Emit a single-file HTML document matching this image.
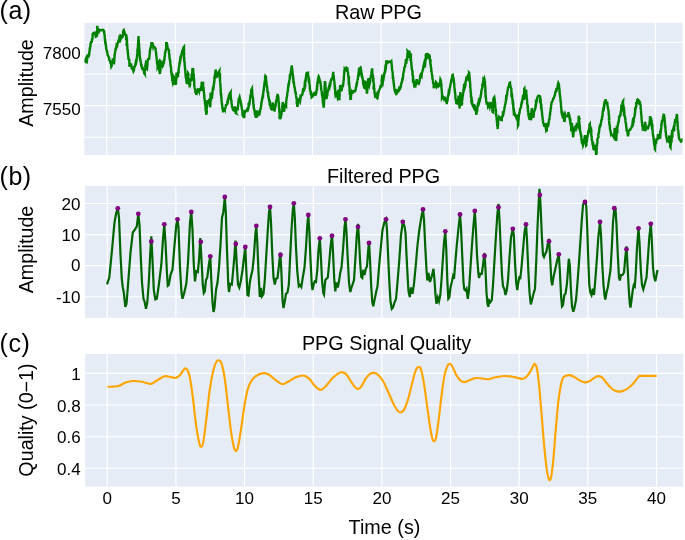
<!DOCTYPE html>
<html><head><meta charset="utf-8">
<style>
html,body{margin:0;padding:0;background:#fff;}
body{width:685px;height:540px;overflow:hidden;font-family:"Liberation Sans",sans-serif;}
svg{display:block;will-change:transform;transform:translateZ(0)}
text{font-family:"Liberation Sans",sans-serif;fill:#000;}
</style></head><body>
<svg width="685" height="540" viewBox="0 0 685 540">
<rect width="685" height="540" fill="#fff"/>
<defs><clipPath id="ca"><rect x="84.4" y="22.8" width="598.2" height="132.2"/></clipPath><clipPath id="cb"><rect x="85" y="185.9" width="598.3" height="131.9"/></clipPath></defs>
<!-- panel a -->
<rect x="84.4" y="22.8" width="598.2" height="132.2" fill="#e5ecf6"/>
<g stroke="#fff" stroke-width="1.15" fill="none">
<path d="M84.4 42.4H682.6M84.4 74H682.6M84.4 105.6H682.6M84.4 137.2H682.6"/>
<path stroke-width="1.15" d="M106.7 22.8V155M175.3 22.8V155M243.9 22.8V155M312.5 22.8V155M381.1 22.8V155M449.7 22.8V155M518.3 22.8V155M586.9 22.8V155M655.5 22.8V155"/>
</g>
<!-- panel b -->
<rect x="85" y="185.9" width="598.3" height="131.9" fill="#e5ecf6"/>
<g stroke="#fff" stroke-width="1.15" fill="none">
<path d="M85 203.5H683.3M85 234.6H683.3M85 265.6H683.3M85 296.7H683.3"/>
<path stroke-width="1.15" d="M107.2 185.9V317.8M175.9 185.9V317.8M244.5 185.9V317.8M313.2 185.9V317.8M381.9 185.9V317.8M450.5 185.9V317.8M519.2 185.9V317.8M587.8 185.9V317.8M656.5 185.9V317.8"/>
</g>
<!-- panel c -->
<rect x="85.2" y="354" width="598.1" height="132.7" fill="#e5ecf6"/>
<g stroke="#fff" stroke-width="1.1" fill="none">
<path d="M85.2 373.4H683.3M85.2 405H683.3M85.2 436.7H683.3M85.2 468.3H683.3"/>
<path stroke-width="1.2" d="M107.2 354V486.7M175.9 354V486.7M244.5 354V486.7M313.2 354V486.7M381.9 354V486.7M450.5 354V486.7M519.2 354V486.7M587.8 354V486.7M656.5 354V486.7"/>
</g>
<path clip-path="url(#ca)" d="M84.7 61.2L85.3 59.8L85.8 58.8L85.9 59.7L86.3 60.9L86.5 62.5L86.7 63.3L86.8 62.5L87.0 59.6L87.2 60.4L87.1 57.4L87.4 57.0L87.6 56.9L87.7 55.7L88.7 56.3L88.9 55.7L89.2 53.8L89.3 53.8L89.3 51.8L89.5 51.0L89.7 50.8L89.7 48.8L89.9 48.0L90.1 48.0L90.4 46.0L90.6 43.3L90.6 44.5L91.0 42.1L91.9 41.6L92.0 39.8L92.0 39.3L92.4 38.9L92.6 37.9L92.6 36.2L92.8 33.7L92.9 33.5L94.1 32.6L94.6 32.6L95.3 34.4L95.8 36.7L96.7 36.2L96.9 35.7L96.7 34.9L97.0 31.2L96.9 31.6L97.1 31.9L97.1 30.1L97.3 29.3L97.3 28.3L97.1 27.2L97.3 26.0L97.5 27.6L97.5 26.3L97.5 29.9L97.9 30.2L97.9 31.2L98.7 32.0L99.4 29.6L100.6 30.2L101.8 30.3L102.8 29.8L104.0 30.9L104.1 31.8L104.4 33.7L104.3 33.7L104.6 35.1L104.7 36.2L104.8 38.5L104.9 39.5L105.2 38.8L105.3 41.5L105.4 41.9L105.6 42.8L105.6 43.7L105.8 45.0L105.9 45.8L106.2 47.3L106.1 48.1L106.2 48.8L106.6 49.9L106.8 50.6L107.0 52.3L107.1 50.8L107.5 54.3L107.7 55.3L108.2 55.8L108.6 57.1L109.1 57.7L109.1 59.5L109.5 60.3L110.4 61.4L110.3 62.6L110.9 63.4L111.0 64.0L111.3 66.5L111.7 65.8L111.8 62.4L112.1 62.6L112.6 62.1L112.8 58.2L113.0 59.0L113.0 61.1L113.5 61.8L113.5 62.6L113.6 64.1L113.7 63.0L114.0 63.1L114.3 60.6L114.2 58.8L114.3 58.6L114.4 58.0L114.6 56.9L114.5 54.3L114.7 55.0L115.0 53.1L115.2 51.0L115.4 51.7L115.4 49.2L115.6 48.6L116.1 48.6L116.4 46.3L116.6 46.3L116.7 45.0L117.2 45.5L117.5 43.3L117.8 42.8L118.0 42.7L118.4 40.7L119.0 40.7L119.3 38.5L119.6 39.1L119.8 41.1L120.0 42.6L119.9 40.9L120.1 39.6L120.4 39.5L120.5 37.2L120.6 37.3L120.7 35.7L121.4 36.2L121.8 37.6L122.8 36.4L123.1 34.2L123.1 32.0L123.5 30.8L123.5 30.2L123.7 30.0L124.0 31.1L124.6 32.4L124.7 33.3L125.4 34.7L125.9 35.1L126.1 35.1L126.1 38.1L126.6 37.7L126.7 39.5L126.9 40.5L126.8 41.8L127.0 41.5L127.1 44.8L127.3 45.0L127.2 45.7L127.4 47.4L127.3 49.0L127.6 50.1L127.9 49.4L127.7 51.9L128.0 53.1L128.0 54.7L128.3 56.2L128.3 57.2L128.4 58.9L128.4 58.9L129.2 59.5L129.4 61.8L129.4 61.8L129.4 64.8L129.9 64.5L129.9 64.4L129.9 66.7L130.3 65.2L130.5 65.2L131.0 63.5L131.2 65.0L131.3 65.9L131.5 66.2L131.7 68.5L132.6 68.9L133.0 69.1L133.5 71.3L133.9 70.5L134.2 66.2L134.6 67.7L134.8 66.3L135.3 65.0L135.8 62.2L136.1 62.7L136.5 60.8L136.4 61.8L136.7 58.4L136.9 57.8L136.9 56.4L137.2 57.5L137.1 53.7L137.5 55.1L137.5 53.0L137.5 52.2L137.4 50.6L137.7 48.6L137.7 48.6L137.9 46.9L138.0 46.2L138.0 45.0L138.1 43.9L138.1 42.6L138.2 41.0L138.3 40.3L138.3 39.3L138.3 38.1L138.6 37.5L138.5 36.1L138.6 36.9L138.5 37.4L138.6 39.4L138.7 41.0L138.7 39.3L138.9 43.9L139.0 43.4L139.1 44.2L139.1 46.4L139.3 48.4L139.3 48.3L139.4 50.9L139.3 51.5L139.6 51.6L139.6 52.8L139.7 55.0L139.8 56.0L140.0 58.6L140.0 57.4L140.1 59.5L140.4 59.6L140.5 61.9L140.7 61.2L140.9 63.3L141.2 65.2L141.5 65.2L141.7 66.7L141.9 67.2L142.2 68.3L142.7 68.0L143.3 69.6L143.5 69.5L143.8 70.2L144.2 73.6L144.4 74.2L144.4 73.0L144.8 73.7L144.7 72.0L144.8 69.9L145.2 69.7L145.2 66.4L145.2 67.5L145.5 65.5L145.6 64.1L145.9 62.8L146.1 63.2L146.2 62.2L146.5 64.5L146.4 63.2L146.5 64.6L146.7 66.5L146.7 68.2L147.0 68.6L147.1 67.8L147.2 66.5L147.4 65.1L147.4 65.0L147.5 63.1L147.6 60.3L147.6 61.5L147.9 60.6L148.0 59.1L149.2 58.8L149.3 57.5L149.4 57.1L149.5 54.8L149.7 54.4L149.8 53.4L149.8 51.6L150.0 50.8L150.2 49.1L150.4 48.8L150.6 47.9L151.0 46.5L151.1 45.5L151.3 44.8L151.4 43.1L152.4 43.1L152.9 44.4L153.3 47.0L153.6 46.2L154.5 47.4L155.1 47.7L155.4 48.6L155.6 49.0L155.7 50.9L156.1 52.6L156.1 53.4L156.3 55.1L156.3 55.9L156.6 57.3L156.6 58.8L157.0 60.7L156.9 60.4L157.0 61.4L157.1 63.7L157.3 64.2L157.6 64.1L157.6 66.8L157.9 66.2L158.0 67.8L158.1 69.3L158.1 68.8L158.3 68.8L158.4 66.5L158.4 64.8L158.8 65.3L158.7 61.8L159.0 61.4L159.0 63.9L159.1 64.0L159.1 65.1L159.1 66.3L159.4 67.4L159.4 69.0L159.5 68.9L159.8 70.4L159.7 72.6L159.7 72.7L159.9 74.0L160.0 72.8L160.1 72.5L160.0 72.7L160.5 69.9L160.2 67.2L160.4 67.8L160.4 67.0L160.5 65.8L160.6 64.6L161.1 62.1L161.8 63.0L161.9 63.2L162.2 65.7L162.5 66.4L162.9 65.7L163.2 64.4L163.6 61.7L164.0 61.9L164.1 60.3L164.2 60.3L164.6 59.2L164.5 57.2L164.8 56.5L164.9 55.8L164.9 53.9L165.0 53.5L165.4 51.0L165.3 52.2L165.6 51.1L165.9 49.8L166.1 48.1L166.3 47.1L166.2 45.7L166.2 43.9L166.6 44.2L166.6 43.1L166.7 42.2L166.7 42.2L167.0 44.2L167.0 43.9L167.3 46.1L167.4 45.8L167.6 47.5L167.7 49.0L168.7 49.6L169.0 50.4L168.9 52.9L169.0 53.5L169.3 53.8L169.3 55.2L169.4 55.5L169.4 57.1L169.6 57.9L169.7 59.3L169.9 59.5L170.1 61.2L170.3 61.9L170.3 63.3L170.4 65.1L170.7 65.8L170.9 67.1L171.0 68.2L171.1 68.9L171.2 72.1L171.4 72.4L171.6 72.5L171.8 74.4L171.6 74.4L172.1 77.1L172.1 77.9L172.3 81.2L172.5 80.4L172.8 81.6L172.7 81.5L172.9 82.8L173.0 83.3L173.4 82.3L173.4 80.4L173.5 78.9L173.8 77.7L173.9 77.2L174.4 78.3L174.8 79.5L175.0 80.7L175.2 82.0L175.6 81.5L175.5 83.9L175.9 84.9L175.8 83.8L176.0 83.7L176.1 82.0L176.0 80.0L176.2 79.8L176.3 77.6L176.4 76.8L176.4 75.3L176.5 72.6L176.6 73.5L176.9 75.6L177.4 75.4L177.6 76.5L178.0 76.1L178.1 74.4L178.2 72.7L178.3 72.1L178.7 72.1L178.6 69.4L178.8 69.0L179.0 66.9L179.1 67.3L179.1 66.2L179.3 65.3L179.5 63.0L179.8 62.2L179.9 61.5L180.1 60.0L180.3 60.5L180.7 58.2L180.7 57.0L181.0 56.2L181.1 56.4L181.7 53.4L182.0 53.3L182.1 51.2L182.5 50.4L182.9 50.3L183.5 47.5L184.0 46.9L184.0 48.3L183.9 50.0L184.0 50.0L183.9 51.8L184.1 53.0L184.2 55.1L184.0 54.5L184.0 55.7L184.0 59.0L184.2 58.4L184.3 58.4L184.1 60.6L184.5 61.9L184.6 61.2L184.6 64.0L184.8 65.3L184.8 65.8L184.9 66.7L184.9 67.9L185.2 69.1L185.1 70.7L185.2 70.4L185.4 72.6L185.5 73.9L185.7 74.5L185.6 75.3L185.8 77.5L185.9 77.7L186.1 78.5L186.4 80.7L186.7 80.3L186.8 82.7L187.1 83.9L187.2 82.3L187.5 82.1L187.5 79.7L187.8 78.3L187.8 77.5L187.9 76.2L187.7 77.5L188.1 74.1L188.1 73.3L188.5 73.9L188.2 75.6L188.3 77.4L188.6 78.8L188.9 79.0L188.9 80.0L188.9 80.0L189.3 83.4L189.5 82.9L189.7 85.2L189.8 85.4L190.0 84.6L190.1 84.4L190.2 80.7L190.5 82.1L190.4 79.8L190.6 79.6L190.7 78.4L191.0 80.2L191.6 80.1L191.7 78.4L191.6 77.1L191.9 77.4L192.0 74.9L192.0 75.0L192.2 72.9L192.3 72.0L192.3 70.6L192.7 70.9L192.8 68.9L193.0 67.9L193.0 68.6L193.2 69.4L193.2 70.6L193.3 72.8L193.5 73.9L193.8 74.8L193.8 75.6L193.8 76.0L193.7 77.8L194.0 78.3L194.1 79.5L194.2 81.6L194.2 82.8L194.2 82.9L194.3 83.9L194.2 85.1L194.4 86.0L194.5 87.2L194.7 88.4L195.1 89.3L195.0 88.3L195.3 90.0L195.4 93.3L195.9 91.6L196.3 94.9L196.7 93.3L197.1 90.4L197.3 91.2L197.6 90.1L198.0 89.7L198.4 88.2L198.4 88.7L199.0 90.1L199.3 91.3L199.8 89.3L200.3 89.0L200.9 89.8L201.2 90.9L201.1 88.4L201.6 88.8L201.6 87.7L201.6 85.2L201.7 85.3L201.8 81.8L202.1 82.8L202.5 85.0L203.1 84.3L203.1 85.8L203.3 87.8L203.6 86.9L203.6 88.4L203.6 90.0L203.7 91.4L203.7 90.7L204.0 93.0L204.1 93.8L204.3 95.6L204.3 96.8L204.2 97.2L204.6 98.7L204.7 100.5L204.9 101.0L204.9 102.2L205.1 103.9L205.3 104.5L205.3 104.8L205.4 105.7L205.6 107.8L205.7 110.0L206.0 110.0L206.1 111.3L206.0 110.6L206.3 113.1L206.2 113.8L206.4 114.7L206.4 113.2L206.4 114.0L206.8 111.6L206.7 111.5L206.7 108.9L206.8 109.8L206.8 108.4L206.9 106.7L207.0 105.3L207.0 105.3L207.3 103.1L207.4 101.6L207.8 101.7L207.7 100.2L208.0 101.0L208.6 102.0L209.0 100.4L209.5 99.0L209.5 100.4L209.7 101.6L209.8 102.8L210.0 103.2L209.8 104.5L210.0 106.1L210.2 107.2L210.3 106.0L210.3 104.2L210.4 105.4L210.4 102.9L210.4 101.9L210.5 101.5L210.5 97.8L210.7 98.0L210.6 97.1L210.6 98.4L210.6 94.5L210.6 92.4L210.8 93.4L210.9 93.9L211.3 94.3L211.4 96.0L211.7 97.9L212.0 97.8L212.0 96.4L212.3 94.6L212.3 94.5L212.5 92.6L212.6 91.1L212.7 89.5L212.9 88.3L213.4 88.6L213.7 85.3L213.8 85.4L214.1 82.5L214.2 83.8L214.2 81.0L214.3 81.3L214.5 80.0L214.4 77.6L214.7 77.4L214.7 76.1L214.9 75.8L215.0 74.3L215.3 72.7L215.3 72.6L215.6 70.5L215.6 69.5L215.8 71.2L215.9 71.5L216.0 71.9L215.9 74.0L216.1 75.5L216.2 77.1L216.4 77.0L216.9 76.5L217.3 75.6L217.8 74.0L218.2 73.3L218.5 72.3L219.3 71.1L219.2 72.0L219.5 73.2L219.4 75.2L219.6 76.7L219.7 78.6L219.8 78.3L220.0 77.9L220.0 80.2L220.2 82.5L220.0 81.8L220.2 82.9L220.4 83.9L220.4 86.0L220.5 87.1L220.7 88.2L220.6 90.0L220.7 90.0L220.8 92.7L220.8 93.5L221.0 93.4L221.1 93.6L221.3 96.5L221.2 98.4L221.4 97.0L221.5 99.5L221.5 100.6L221.8 102.3L221.8 103.2L222.1 104.2L221.9 104.6L222.3 106.5L222.4 107.4L222.6 109.4L222.8 109.8L223.1 111.3L223.4 111.2L223.9 110.4L224.0 107.6L224.6 109.0L224.9 109.6L225.0 108.4L225.5 107.8L225.7 106.7L225.9 105.1L227.1 104.5L227.4 102.2L227.4 102.0L227.7 100.7L228.0 101.0L228.1 98.9L228.6 98.8L228.7 96.3L229.2 95.4L229.6 94.0L229.8 93.3L230.4 92.7L230.6 92.4L230.5 93.8L230.7 95.2L230.9 98.1L231.0 98.7L231.1 98.9L231.2 100.0L231.5 100.8L231.5 102.2L231.5 103.1L231.9 105.3L232.1 107.4L232.1 106.6L232.8 108.7L232.9 109.7L233.9 110.6L234.3 110.4L234.6 107.5L234.8 106.9L234.9 106.5L235.1 107.7L235.2 110.5L235.5 109.4L235.7 112.5L235.7 113.0L236.1 113.2L236.0 113.0L236.2 110.5L236.5 110.0L236.6 108.2L237.1 108.1L237.5 110.3L237.6 109.7L237.8 109.4L237.9 106.5L237.9 107.2L238.2 104.9L238.3 104.5L238.4 101.9L238.6 100.0L239.1 100.3L239.2 98.2L239.3 98.0L239.6 97.1L240.1 99.3L240.4 100.1L240.7 102.1L241.0 103.1L241.2 103.6L241.3 105.8L241.7 106.8L241.7 107.7L241.9 109.1L242.2 109.7L242.3 110.0L242.4 111.8L242.5 114.8L242.9 115.9L243.0 115.9L243.6 115.8L244.0 118.1L244.1 116.6L244.3 117.6L244.4 114.1L244.6 113.7L244.9 112.4L244.9 111.0L246.2 110.5L246.7 110.9L247.4 109.1L247.9 109.7L248.6 107.1L248.6 105.5L248.8 105.7L249.4 104.7L249.4 101.9L249.6 101.7L249.7 101.8L249.9 99.9L250.0 99.5L250.2 98.0L250.3 97.0L250.3 95.9L250.7 94.7L250.9 95.3L251.2 91.4L251.2 90.4L251.7 89.4L251.9 89.0L251.9 89.9L252.2 90.2L252.1 92.4L252.2 91.5L252.4 96.5L252.6 95.5L252.7 96.9L252.7 97.6L253.1 98.2L253.1 99.6L253.1 99.9L253.3 102.8L253.3 103.4L253.5 105.2L253.7 105.2L253.7 106.1L253.7 107.8L254.1 108.9L254.1 109.1L254.5 110.6L254.7 111.7L254.7 112.1L255.0 114.5L255.4 115.6L255.6 115.8L255.9 117.8L256.0 117.3L256.0 116.7L256.0 113.8L256.2 114.5L256.3 111.6L256.4 111.1L256.6 110.3L256.7 111.0L257.0 111.9L257.1 113.5L257.3 115.3L257.5 115.7L257.9 115.1L258.5 115.0L259.0 112.7L259.6 113.3L259.9 112.0L260.1 110.9L260.1 109.0L260.5 110.2L260.7 108.3L261.0 107.1L261.2 104.9L261.4 104.4L261.2 103.8L261.7 101.5L261.8 101.4L262.0 100.0L262.1 98.7L262.3 98.0L262.5 98.0L262.7 96.0L263.0 96.1L263.1 94.4L263.3 92.6L263.5 90.8L263.7 90.2L263.9 90.7L263.8 87.9L264.1 87.2L264.2 85.2L264.5 83.2L264.9 84.0L264.7 83.0L265.0 81.7L265.1 80.9L265.1 79.3L265.4 79.8L265.4 78.9L265.6 76.3L265.9 76.7L265.9 77.4L266.2 80.7L266.2 80.2L266.2 81.5L266.5 82.2L266.5 84.9L266.6 85.1L267.1 86.5L267.0 88.9L267.2 87.7L267.4 90.7L267.6 93.1L267.7 92.0L268.0 92.1L268.2 93.9L268.1 94.5L268.4 97.1L268.8 97.4L268.8 99.1L269.2 100.7L269.6 99.6L269.6 102.3L269.7 103.9L270.0 103.7L270.1 106.2L270.3 105.6L270.7 107.3L271.1 108.8L271.9 109.5L272.2 109.0L272.1 108.1L272.2 105.5L272.5 104.8L272.8 104.3L272.6 103.5L272.9 102.6L273.0 104.2L273.0 104.0L273.4 104.9L273.3 106.3L273.6 108.2L274.1 109.5L274.5 110.5L274.6 110.5L274.8 109.1L275.2 107.8L275.4 106.4L275.6 105.2L275.9 104.9L275.9 102.9L276.1 101.0L276.4 100.3L276.6 100.0L276.9 98.8L277.0 96.5L277.3 95.9L277.7 94.2L277.8 93.9L277.7 96.0L278.1 96.1L278.3 97.3L278.4 98.5L278.5 98.8L278.4 99.8L278.7 102.1L278.7 102.6L279.0 103.4L278.9 106.5L278.9 107.3L279.0 105.7L279.1 107.7L279.3 109.7L279.3 113.3L279.5 111.8L279.7 112.8L279.6 115.4L279.8 115.1L279.7 116.3L280.0 116.6L280.3 116.2L280.4 119.4L280.4 118.4L280.7 116.9L280.9 115.0L281.2 115.4L281.4 114.5L281.5 113.4L281.7 111.9L281.9 110.9L282.0 109.6L282.0 108.4L282.3 109.3L282.5 106.7L282.2 106.4L282.6 104.7L282.7 104.6L282.7 102.0L282.7 102.0L283.0 104.3L283.0 104.3L283.2 106.0L283.3 107.7L283.4 108.2L283.9 110.7L284.1 110.7L284.3 110.6L284.4 109.2L284.5 106.9L284.5 107.4L284.9 107.1L285.0 105.9L284.9 103.5L285.1 104.3L285.4 105.1L285.6 107.0L285.6 106.5L286.1 106.8L286.1 103.7L286.2 103.0L286.2 101.3L286.4 100.2L286.5 99.5L286.6 98.5L286.8 97.2L286.9 96.7L287.2 95.4L287.2 94.5L287.4 92.8L287.6 91.7L287.7 92.2L288.0 89.2L288.0 88.9L288.2 87.0L288.3 87.2L288.6 85.3L288.6 84.9L289.0 83.4L289.0 82.1L289.3 81.1L289.4 80.3L289.6 79.2L289.8 76.4L290.1 76.7L290.3 75.0L290.5 74.0L290.6 74.8L290.8 72.3L291.1 70.3L291.2 71.0L291.4 67.9L291.6 68.8L291.5 67.4L291.9 65.4L291.8 67.9L292.3 68.8L292.3 69.7L292.2 69.9L292.4 71.3L292.6 72.5L292.6 73.7L292.8 75.0L293.1 75.9L293.0 77.4L293.1 78.0L293.3 80.4L293.5 80.1L293.6 81.0L293.9 82.2L294.0 82.7L294.1 84.9L294.3 86.0L294.5 87.2L294.8 87.8L294.8 88.0L295.2 91.3L295.3 91.8L295.6 93.2L295.7 92.3L296.1 95.8L296.0 95.4L296.4 97.8L296.5 98.6L296.8 99.6L296.9 98.4L296.7 102.3L296.8 103.4L297.2 104.8L297.2 106.8L297.5 106.0L297.5 106.9L297.6 105.3L297.6 104.8L297.9 104.1L298.1 102.7L298.2 101.2L298.2 100.2L298.5 100.3L299.3 98.9L299.7 99.9L300.1 101.0L300.3 99.8L300.5 97.2L300.7 97.5L301.0 96.1L301.2 96.1L301.7 95.0L302.2 94.8L302.5 94.2L302.5 93.4L302.9 91.2L302.9 89.8L303.1 89.4L304.1 90.1L304.4 88.7L304.5 87.7L304.7 87.7L304.6 86.4L304.8 83.6L305.2 84.1L305.2 82.3L305.2 81.8L305.5 79.9L305.7 80.0L305.7 79.4L306.0 78.1L306.1 76.3L306.2 75.0L306.5 73.2L307.1 72.5L307.1 71.8L307.6 74.2L308.0 73.8L308.0 75.4L308.3 76.6L308.4 75.6L308.6 78.4L308.6 80.3L308.8 80.5L308.9 80.9L308.9 83.3L309.3 82.4L309.4 83.7L309.6 84.5L309.8 86.8L309.8 88.5L310.1 89.8L310.3 90.6L310.4 91.9L310.7 92.3L310.8 94.1L311.2 94.8L311.3 94.6L311.6 97.3L312.6 96.4L313.1 95.8L313.6 94.2L314.2 92.9L314.5 92.8L315.0 94.6L315.4 94.7L315.7 93.3L316.1 93.5L316.3 92.4L316.4 91.9L316.7 89.7L316.9 88.3L317.1 86.1L317.2 86.3L317.4 83.6L317.5 84.5L317.6 82.3L317.7 83.4L317.9 80.2L318.0 79.3L318.2 78.9L318.3 77.2L318.4 77.9L318.7 76.4L318.9 76.7L319.3 79.1L319.6 79.4L319.8 81.4L320.4 81.6L320.5 84.0L320.7 83.1L320.8 86.1L320.8 85.0L321.1 88.0L321.1 90.4L321.2 89.9L321.5 91.1L321.7 91.4L321.8 91.0L321.9 94.3L322.2 95.9L322.4 95.7L322.7 98.0L322.8 98.7L322.7 99.2L323.0 103.3L323.0 102.0L323.2 104.1L323.5 105.7L323.6 105.6L323.6 105.7L323.7 107.6L323.8 105.6L324.0 105.4L323.8 101.6L323.9 102.6L324.1 102.6L324.0 101.1L324.2 100.4L324.2 97.3L324.1 96.6L324.3 96.8L324.3 95.7L324.4 94.4L324.5 92.5L324.7 92.7L324.5 92.1L324.6 89.5L324.9 89.0L324.5 88.2L324.7 85.4L324.9 85.7L325.1 84.4L324.9 82.3L325.0 82.3L325.0 83.3L325.0 82.3L325.3 83.1L325.4 86.3L325.3 87.3L325.7 87.9L325.6 88.1L325.7 90.8L325.8 91.5L325.8 93.2L325.9 94.0L326.0 95.2L326.2 96.3L326.5 97.9L326.5 99.2L326.7 97.4L326.9 96.9L327.0 95.6L327.0 94.0L327.4 94.1L327.4 92.4L327.9 91.5L328.3 89.9L328.9 87.4L329.3 87.8L329.5 86.2L329.7 86.6L330.2 85.9L330.4 83.9L330.6 81.6L330.9 80.7L331.1 79.8L331.4 79.2L332.3 78.0L332.6 76.7L332.7 75.6L332.9 75.3L333.1 72.9L333.3 72.9L333.3 75.5L333.5 76.0L333.7 76.0L333.9 77.6L333.9 80.0L334.1 80.0L334.3 81.6L334.4 81.3L334.4 83.0L334.6 84.1L334.7 86.4L334.8 86.4L334.8 88.1L335.1 88.1L335.1 88.9L335.3 91.6L335.2 92.5L335.2 92.7L335.5 95.1L335.6 94.9L335.7 96.5L336.0 95.1L336.5 95.6L336.7 92.9L337.0 92.7L337.2 95.2L337.4 96.8L337.6 97.6L337.8 97.0L337.9 94.8L338.0 94.7L338.1 92.8L338.4 90.7L338.5 90.7L338.7 91.9L338.7 91.7L338.9 94.3L339.0 94.3L339.2 96.5L339.2 98.4L339.3 100.3L339.4 99.5L339.4 98.2L339.3 97.4L339.6 96.2L339.6 96.0L339.7 95.3L339.6 92.8L339.8 91.2L340.0 92.0L340.0 88.7L340.0 88.9L340.1 87.4L340.1 86.2L340.5 86.1L341.0 89.8L341.2 89.9L341.5 88.4L341.9 88.8L342.2 86.9L342.6 86.6L343.1 85.7L343.1 84.1L343.4 83.4L343.4 81.3L343.4 81.8L343.8 79.5L343.8 79.6L343.9 77.0L343.9 76.3L344.1 75.1L344.0 75.4L344.3 72.6L344.4 70.4L344.4 71.3L344.7 70.1L344.7 68.6L345.6 69.4L346.0 69.8L346.5 67.8L347.4 68.4L347.5 70.6L347.7 71.3L348.0 72.1L348.1 73.2L348.1 74.6L348.3 76.6L348.5 77.4L348.5 77.3L348.6 78.8L348.7 81.1L348.9 80.7L348.9 80.8L349.1 82.8L349.3 84.9L349.3 85.8L349.4 86.1L349.6 88.9L349.6 87.3L349.6 90.4L349.6 91.7L349.9 91.9L349.8 93.6L350.1 93.6L350.3 94.3L350.3 96.4L350.3 96.4L350.3 99.1L350.5 100.1L350.5 97.4L350.9 97.6L350.9 97.1L351.1 95.3L351.3 94.3L351.6 91.3L351.9 92.7L352.1 91.3L353.0 92.3L353.5 91.5L354.1 91.0L355.1 91.1L355.3 90.6L355.8 89.0L355.9 87.3L356.1 86.9L356.3 86.8L356.6 83.6L356.7 83.6L356.9 83.8L357.2 81.8L357.4 80.8L357.7 79.1L357.8 80.1L357.8 78.6L358.2 76.3L358.4 74.5L358.6 73.3L358.8 71.3L359.2 72.2L359.3 69.9L359.6 68.8L360.1 68.2L360.7 70.7L361.0 70.0L361.1 70.8L361.5 73.4L361.7 72.8L361.8 73.8L361.9 75.7L362.3 76.8L362.6 78.7L362.8 79.4L363.1 82.1L363.2 82.0L363.3 82.6L363.5 83.3L363.7 85.6L364.2 87.8L364.6 88.0L364.7 86.3L365.0 85.1L365.2 82.6L365.3 81.8L365.5 81.9L365.8 82.5L366.0 83.8L366.0 85.9L366.3 86.3L366.4 87.0L366.4 88.2L366.5 89.3L366.8 90.4L366.8 92.6L366.9 92.8L367.0 93.6L367.2 91.7L367.2 90.7L367.4 89.6L367.4 88.4L367.3 89.4L367.4 88.2L367.7 84.5L367.7 85.0L367.6 83.5L367.9 82.5L368.0 81.2L368.1 78.9L368.5 80.7L368.4 78.1L368.6 78.7L368.8 81.2L368.9 80.5L369.2 82.7L369.2 84.7L369.3 85.1L369.7 83.4L369.8 82.2L369.9 82.2L370.2 80.2L370.4 77.9L370.5 78.3L370.6 77.7L370.9 76.2L371.1 75.1L371.5 74.6L371.4 72.5L371.7 71.1L371.7 70.9L372.0 69.5L372.2 69.5L372.3 71.8L372.4 74.4L372.6 73.6L372.6 75.5L372.9 76.0L373.1 76.4L373.1 79.3L373.2 79.2L373.4 78.0L373.5 81.9L373.5 82.3L373.8 83.6L373.8 84.8L373.6 87.0L374.0 86.7L374.0 88.1L374.3 88.7L374.2 89.3L374.4 90.6L374.6 93.1L374.7 93.2L375.1 95.9L375.7 95.2L376.0 96.6L376.7 97.5L376.9 96.1L377.2 94.7L377.4 95.2L377.6 93.0L378.1 94.5L378.7 91.1L379.3 90.0L379.7 88.8L380.2 88.3L380.2 87.0L380.6 86.0L380.9 86.0L381.3 87.5L381.4 86.6L381.5 85.9L381.7 83.0L381.8 82.7L381.9 81.3L381.6 81.0L381.9 78.4L382.1 78.9L382.4 78.2L382.6 81.9L382.8 82.4L383.0 80.8L383.3 80.3L383.4 79.7L383.6 77.5L383.9 77.1L383.9 74.6L384.2 74.6L384.2 73.7L384.7 72.6L384.9 72.0L385.2 69.0L385.5 69.8L385.8 68.4L385.8 67.8L386.0 66.3L386.2 64.0L386.1 63.0L386.2 62.0L386.4 62.0L386.5 60.3L386.8 61.3L387.0 62.8L387.4 62.9L388.3 62.2L389.3 61.5L390.4 62.2L391.3 61.3L391.4 62.9L391.4 62.7L391.7 64.6L391.8 66.2L391.8 67.1L392.0 68.3L392.0 68.5L392.2 70.2L392.4 71.3L392.6 72.4L392.7 73.9L392.7 74.8L392.9 76.3L392.8 77.6L393.2 77.6L393.2 77.4L393.4 80.5L393.5 81.1L393.6 82.9L393.8 83.1L393.9 85.0L394.1 85.9L394.2 87.4L394.5 89.5L394.6 89.1L394.9 91.5L395.1 91.9L395.5 91.2L395.9 89.1L396.1 90.8L396.1 92.0L396.4 94.0L396.6 93.9L396.9 92.3L397.1 90.7L397.5 90.9L398.4 91.4L398.8 90.7L398.8 89.1L399.3 87.7L400.1 88.4L400.3 87.3L400.9 86.7L401.0 84.3L401.4 83.6L401.7 82.4L401.9 81.5L402.2 80.9L402.3 78.0L402.6 80.8L402.8 77.4L403.2 76.9L403.1 75.4L403.2 73.9L403.6 72.7L403.7 71.3L404.0 70.9L404.1 70.7L404.2 68.0L404.6 67.2L405.1 66.6L405.3 64.0L405.5 63.8L405.8 62.3L405.8 59.5L406.1 60.8L406.3 61.0L406.2 58.6L406.6 60.3L406.8 60.9L407.0 61.4L406.9 60.0L407.1 60.8L407.2 56.3L407.3 56.8L407.4 57.2L407.4 54.3L407.5 53.4L407.9 52.4L407.7 51.2L408.0 51.5L408.0 54.0L408.2 55.0L408.3 56.1L408.5 57.5L408.4 57.7L408.5 56.7L408.7 56.5L408.8 54.2L409.0 55.7L409.0 51.6L409.1 52.0L409.2 50.5L409.4 52.5L409.6 51.8L409.6 53.8L409.6 54.6L409.9 56.0L410.1 54.9L410.5 53.4L410.5 56.2L410.7 55.8L410.9 55.6L410.9 58.1L411.0 59.5L411.0 61.1L411.1 61.8L411.3 62.1L411.4 65.6L411.6 66.0L411.7 66.8L411.7 68.6L411.9 69.1L412.0 69.7L412.1 70.5L412.6 71.3L412.4 73.7L412.7 74.5L412.5 74.9L412.9 75.4L413.0 79.3L413.2 79.0L413.3 80.2L413.5 80.3L413.7 82.3L413.9 83.5L414.3 82.2L414.7 82.6L415.0 83.1L414.9 83.0L415.0 84.4L415.2 86.5L415.3 87.7L415.4 85.7L415.8 84.8L416.0 83.5L416.3 83.3L416.4 80.3L416.4 81.2L416.7 79.3L416.9 80.3L417.4 82.8L417.6 82.8L418.7 83.8L419.1 83.0L419.4 81.7L419.7 79.7L419.9 78.5L420.4 75.5L420.3 76.4L420.6 75.1L421.5 76.4L421.6 75.3L421.8 73.9L422.0 72.6L422.3 71.6L422.4 71.1L422.7 70.0L423.0 69.7L423.3 67.5L423.5 66.0L423.9 64.7L424.1 63.8L424.3 64.6L424.7 64.9L424.9 67.7L424.8 66.6L425.1 65.0L425.2 63.3L425.2 62.8L425.4 60.8L425.4 61.0L425.6 58.8L425.6 58.7L425.9 57.2L425.8 56.2L426.1 56.3L426.2 54.7L426.4 53.1L426.5 53.5L426.6 56.7L426.9 57.8L427.1 57.5L427.4 56.8L427.4 54.6L427.9 54.2L428.1 54.3L428.2 54.7L428.3 56.7L428.6 58.5L428.8 57.4L429.1 55.1L429.3 54.4L429.5 56.3L429.7 58.3L429.8 58.2L429.8 59.0L430.1 60.4L430.2 61.6L430.5 61.4L430.4 64.0L430.9 65.3L430.8 65.9L430.9 67.4L431.2 67.8L431.3 72.0L431.5 70.6L431.6 71.8L431.8 73.5L431.7 73.1L432.1 74.9L432.3 76.2L432.3 76.7L432.4 78.6L432.7 79.3L432.8 79.6L433.0 81.2L433.1 82.8L433.4 83.3L433.6 84.3L433.7 85.4L433.7 87.3L433.9 88.1L434.0 86.4L434.4 85.9L434.5 84.7L434.4 84.4L434.7 82.4L434.7 84.6L435.1 85.8L435.2 86.6L435.4 87.3L435.5 86.6L435.7 84.9L435.8 85.3L435.9 83.6L436.1 82.0L436.3 82.2L436.5 85.0L436.8 85.1L436.9 86.6L437.4 85.9L437.8 84.6L438.1 83.1L438.7 86.1L439.6 85.2L439.7 85.8L440.1 82.4L440.3 82.1L440.2 80.9L440.4 79.4L440.6 79.8L440.9 81.3L441.2 83.2L441.3 83.6L441.4 84.7L441.4 83.9L441.4 87.3L441.6 89.1L441.8 90.4L441.8 90.5L441.8 91.4L441.9 92.4L442.0 93.9L442.0 97.3L442.2 96.9L442.4 96.8L442.3 98.2L442.5 99.4L442.8 98.0L443.4 97.1L443.8 97.3L444.3 99.4L444.7 98.8L445.2 98.3L445.6 99.2L446.1 100.1L446.1 101.1L446.4 101.2L446.8 104.2L446.9 102.5L447.2 101.2L447.4 100.6L447.6 100.2L447.6 98.5L447.8 97.6L448.0 95.9L448.4 94.7L448.6 92.9L448.9 93.6L449.2 92.5L449.3 90.6L449.5 90.1L449.7 88.8L450.1 86.6L450.2 86.4L450.6 84.0L450.6 84.4L450.9 82.8L451.1 81.6L451.2 80.1L451.6 79.3L451.8 78.8L452.0 77.3L452.4 75.1L452.7 74.9L453.0 76.9L453.2 77.7L453.5 79.0L453.6 77.8L453.8 82.8L453.9 80.4L453.9 81.8L454.3 84.3L454.2 85.3L454.4 86.8L454.4 87.6L454.6 88.4L454.7 89.4L454.7 90.4L455.0 91.6L455.0 92.8L455.3 94.0L455.3 95.3L455.3 95.1L455.4 97.5L455.5 98.6L455.7 99.3L456.0 100.3L456.0 101.2L456.3 102.8L456.4 104.1L456.6 102.3L457.0 101.0L457.2 100.1L457.3 101.8L457.9 104.5L457.9 103.7L458.0 101.6L457.9 101.7L458.0 100.2L458.4 99.4L458.2 98.7L458.5 97.8L458.5 95.5L458.8 97.0L458.8 97.4L459.0 98.2L459.1 97.9L459.1 100.5L459.0 102.6L459.2 102.1L459.2 104.6L459.4 105.5L459.5 107.0L459.6 107.5L459.7 108.6L459.7 106.8L459.8 107.6L459.8 105.4L459.6 104.0L459.8 102.8L459.8 100.4L460.0 101.5L460.2 98.2L460.0 97.8L460.0 97.5L460.1 94.9L460.3 96.1L460.3 92.7L460.3 93.0L460.3 91.9L460.3 93.2L460.4 93.2L460.7 94.7L460.9 95.1L460.8 96.6L461.0 98.8L461.0 99.2L461.1 99.6L461.4 100.3L461.6 103.7L461.5 104.4L461.6 105.4L461.7 104.9L462.1 103.3L461.9 100.5L462.2 100.0L462.2 100.6L462.4 98.7L462.5 97.4L462.7 95.9L462.9 95.2L462.8 95.9L463.1 93.4L463.3 92.1L463.5 91.7L463.4 90.4L463.8 87.3L463.7 88.6L464.0 87.6L464.1 83.5L464.1 84.2L464.3 86.4L464.5 85.8L464.9 87.4L465.0 87.1L465.5 83.5L465.5 85.4L465.5 82.2L465.8 81.1L466.1 80.9L466.1 78.5L466.3 78.1L466.7 77.7L466.7 76.1L467.1 78.0L467.2 78.0L467.6 78.9L467.7 79.0L467.9 76.5L468.0 75.2L468.3 74.7L468.7 74.9L469.2 72.7L469.1 72.6L469.4 76.5L469.5 74.9L469.5 77.8L469.8 78.3L469.8 79.8L470.0 81.4L470.0 82.2L470.0 82.9L470.2 84.0L470.3 84.9L470.2 88.4L470.4 87.5L470.5 89.2L470.5 89.4L470.7 91.6L470.7 92.3L470.9 93.5L471.0 93.9L470.8 97.0L471.1 96.4L471.1 96.4L471.4 98.2L471.4 99.5L471.6 99.3L471.7 101.6L472.0 101.4L472.0 103.5L472.3 104.5L472.7 105.4L473.2 106.3L473.6 107.2L473.9 105.0L474.5 105.3L474.8 105.9L475.0 108.0L475.0 108.2L475.4 108.9L475.7 111.1L475.6 111.8L475.8 110.6L476.1 112.4L476.3 114.2L476.4 114.7L476.7 111.9L476.7 111.6L477.2 111.0L477.2 109.0L477.4 107.8L477.8 105.2L478.1 105.7L478.5 105.1L478.8 101.4L479.1 101.7L479.3 99.9L479.8 100.5L480.1 99.4L480.2 98.2L480.7 97.4L480.7 95.6L481.0 94.9L481.3 92.2L481.4 90.6L481.8 89.7L481.9 90.3L482.0 88.6L482.3 87.9L482.3 85.6L482.7 85.8L482.8 84.8L482.9 84.0L483.3 80.3L483.6 80.9L483.8 80.0L484.0 79.5L484.3 78.5L484.5 79.2L484.6 80.7L484.5 81.6L485.0 81.8L484.9 83.4L485.0 84.9L485.0 85.0L485.2 86.1L485.4 88.1L485.4 89.3L485.2 90.4L485.4 92.6L485.5 92.5L485.5 93.5L485.5 94.5L485.6 94.4L485.7 96.0L485.9 97.4L486.2 100.3L486.1 99.6L486.2 101.4L486.3 102.0L486.4 102.3L486.6 102.5L486.7 104.7L487.0 102.8L487.4 102.7L487.6 103.1L487.9 105.3L488.0 105.0L488.1 107.2L488.6 107.2L489.0 105.0L489.4 104.3L489.9 106.7L490.4 104.8L490.4 103.2L490.7 102.2L490.9 104.2L491.1 106.5L491.1 105.7L491.4 107.0L491.9 107.1L492.1 105.9L492.2 107.3L492.3 108.2L492.6 107.6L492.4 110.1L492.6 111.2L492.8 112.7L492.7 112.2L492.9 112.3L492.6 110.0L492.9 109.9L492.8 108.9L493.0 107.2L493.2 107.1L493.0 105.6L493.2 102.3L493.1 103.1L493.3 101.3L493.3 99.5L493.3 100.1L493.3 99.2L493.7 98.1L494.1 97.6L494.3 97.3L494.7 99.9L494.8 100.9L495.0 102.8L494.9 102.0L495.1 103.1L495.3 105.5L495.3 107.1L495.5 108.4L495.6 108.6L495.5 110.1L495.7 111.2L495.9 111.1L496.0 113.4L496.1 114.4L496.3 114.8L496.3 116.2L496.7 118.1L496.6 118.8L496.9 120.7L497.0 123.0L497.1 122.5L497.2 126.4L497.4 125.9L497.3 124.7L497.6 126.3L497.6 128.5L497.7 129.0L497.8 126.7L498.1 125.5L498.1 124.5L498.0 124.3L498.1 122.7L498.2 121.1L498.4 120.1L498.8 118.5L499.0 117.6L499.1 117.1L499.7 117.9L500.0 118.5L500.9 117.7L501.2 120.0L501.8 120.1L501.9 118.4L502.2 116.6L502.7 115.9L502.9 113.7L503.3 114.2L503.6 112.8L503.8 111.7L504.0 110.8L504.3 109.4L504.4 108.1L504.7 107.0L504.8 106.0L505.1 104.8L505.3 104.4L505.5 102.8L505.8 102.2L506.0 99.1L506.2 99.5L506.5 98.1L506.5 97.6L506.6 94.7L506.9 95.5L507.1 94.6L507.2 93.4L507.4 91.0L507.5 90.8L507.7 90.3L508.0 88.1L508.3 87.2L508.9 86.7L509.1 84.5L509.3 84.1L509.6 82.9L510.0 82.7L510.3 86.2L510.4 85.9L510.7 87.5L511.1 88.0L511.3 88.5L511.4 90.8L511.5 92.3L511.5 93.5L511.5 94.8L511.9 94.4L512.0 94.9L512.2 97.5L512.4 97.9L512.3 97.6L512.5 101.3L512.6 100.6L512.6 102.6L513.0 104.7L513.2 104.2L513.3 105.1L513.3 107.2L513.3 108.0L513.4 108.9L513.6 109.7L513.8 112.2L514.1 111.6L514.4 113.7L514.9 113.8L515.0 115.4L515.9 115.9L515.9 116.4L516.5 118.3L516.7 118.7L516.9 116.6L517.1 115.2L517.4 116.2L517.5 114.5L517.6 115.7L517.6 117.9L517.6 116.7L517.6 117.8L517.8 119.9L517.8 121.2L517.9 121.9L518.0 124.1L518.0 125.7L518.1 125.5L518.2 125.9L518.2 123.8L518.3 123.2L518.4 120.4L518.6 119.8L518.6 118.8L518.7 117.9L518.8 116.5L518.8 115.6L519.0 114.4L519.3 114.0L519.6 112.3L519.8 110.7L520.1 108.8L520.4 108.4L520.8 107.5L521.0 106.9L521.3 104.6L521.6 102.8L522.0 102.9L522.2 101.6L522.2 100.8L522.6 98.5L522.9 99.4L523.1 97.4L523.4 99.0L523.9 98.9L524.1 97.8L524.1 96.4L524.0 95.5L524.2 94.5L524.2 92.5L524.2 91.4L524.3 91.0L524.2 88.8L524.4 88.5L524.5 89.8L524.5 90.8L524.8 92.0L524.8 93.0L525.0 93.9L525.1 95.8L525.2 96.0L525.4 94.1L525.4 94.6L525.7 92.9L525.6 91.1L525.9 90.4L526.1 89.5L526.3 91.8L526.2 92.8L526.4 94.8L526.5 94.8L526.7 96.7L526.7 97.3L526.7 98.4L526.9 98.8L527.1 100.9L527.1 101.4L527.2 103.7L527.3 103.8L527.4 104.6L527.7 105.2L527.7 107.3L527.9 107.3L527.9 110.5L528.1 110.5L528.4 112.8L528.3 114.3L528.4 114.6L528.6 115.6L528.9 116.5L528.9 117.5L529.3 118.3L529.6 119.7L529.8 118.2L530.1 118.1L530.0 114.8L530.3 114.4L530.4 115.1L530.5 115.8L530.4 117.8L530.4 117.8L530.8 119.3L531.0 120.2L531.0 119.6L531.1 119.2L531.4 117.5L531.3 115.7L531.4 114.3L531.4 114.7L531.6 113.7L531.5 112.9L531.7 110.6L531.6 108.4L531.7 108.6L532.0 110.1L532.0 112.2L531.9 112.2L532.2 112.8L532.3 113.9L532.4 115.3L532.6 115.4L533.1 115.7L533.2 117.9L533.4 115.5L533.6 115.6L533.8 114.3L533.8 114.0L533.9 112.3L534.4 110.9L534.7 110.5L534.9 108.7L535.4 108.5L535.6 106.7L535.6 105.4L536.0 105.4L536.0 103.3L536.1 103.5L536.4 102.0L536.9 100.5L537.0 100.2L537.3 98.1L537.7 96.8L538.2 95.9L539.1 95.7L540.0 96.3L540.3 97.5L540.2 99.4L540.4 99.1L540.7 99.5L540.7 101.9L540.7 102.4L540.9 103.8L541.1 106.6L541.3 106.4L541.3 108.0L541.5 108.0L541.7 110.8L541.7 110.4L541.8 111.1L542.0 111.7L542.1 114.5L542.2 115.4L542.4 116.7L542.5 116.7L542.7 119.5L542.7 120.7L543.0 119.9L543.0 121.7L543.3 123.2L543.7 124.1L543.9 124.8L544.4 124.6L544.4 127.1L544.7 124.3L545.2 124.5L545.2 125.4L545.8 127.8L545.9 128.5L546.2 130.4L546.5 129.9L546.7 131.8L546.7 130.7L546.8 131.1L546.8 128.9L547.0 128.0L547.2 127.5L547.2 126.4L547.4 124.6L547.3 123.8L547.4 123.0L547.7 125.1L547.8 125.0L548.1 126.6L548.4 124.9L548.5 123.6L548.6 123.5L548.8 122.3L548.9 120.8L549.1 119.0L549.4 120.1L549.6 117.2L549.8 115.7L549.9 116.0L550.1 114.3L550.1 112.4L550.4 111.4L550.6 109.7L550.8 107.6L550.9 108.6L551.0 108.0L551.1 105.1L551.4 104.4L551.5 102.5L551.9 102.0L552.3 101.5L552.7 100.3L553.1 98.8L553.6 98.1L553.8 98.1L554.5 95.9L554.7 95.3L555.1 94.3L555.2 92.4L555.7 91.8L556.2 89.9L556.6 90.2L556.9 88.7L557.3 88.4L557.6 87.1L557.9 84.5L558.3 83.0L558.7 83.9L559.0 84.8L559.1 87.6L559.3 87.8L559.3 89.0L559.6 90.0L559.5 90.4L559.7 92.4L559.7 94.0L559.9 94.4L559.9 95.3L560.1 96.7L560.3 98.5L560.4 98.2L560.4 99.7L560.6 101.0L560.7 103.0L560.7 101.8L561.1 105.0L561.0 104.5L561.0 106.1L561.2 107.8L561.3 108.6L561.5 111.6L561.7 111.5L561.7 111.5L562.0 114.5L562.1 114.5L562.4 114.8L562.8 117.3L562.8 118.5L563.1 117.8L563.4 116.2L563.7 115.3L563.9 116.5L564.0 118.3L564.2 118.1L564.1 120.9L564.4 121.1L564.4 122.0L564.6 121.2L564.9 119.5L564.7 119.9L565.0 115.3L565.0 115.7L565.2 114.8L565.6 116.2L566.1 116.5L566.8 116.3L567.0 114.8L567.4 116.2L568.0 116.1L568.2 114.9L568.2 114.4L568.3 113.3L568.4 112.0L568.7 114.1L568.9 114.3L569.3 115.0L569.4 116.8L569.7 118.7L569.9 118.1L570.2 118.6L570.3 120.7L570.4 120.8L570.5 124.1L570.7 124.6L570.8 125.3L571.2 127.1L571.2 127.0L571.2 130.3L571.4 130.4L571.6 131.2L571.6 125.8L571.7 125.8L571.7 125.5L571.9 124.4L571.8 123.6L572.0 122.9L572.0 124.5L572.0 126.2L572.2 126.8L572.3 128.9L572.3 128.2L572.6 131.6L572.6 130.8L572.6 132.0L572.9 134.7L573.0 133.0L573.1 136.6L573.2 137.2L573.3 135.9L573.3 135.1L573.5 134.1L573.5 132.8L573.6 130.9L573.5 131.4L573.8 129.5L574.3 130.0L574.7 128.0L575.6 129.2L575.9 127.3L576.4 127.9L576.7 126.1L576.9 124.1L577.3 124.2L577.5 125.1L578.1 126.2L578.1 124.6L578.3 123.3L578.3 124.0L578.6 123.0L578.5 121.7L578.6 118.3L578.7 118.1L578.7 115.8L578.8 116.4L578.9 116.7L579.0 120.0L579.3 119.2L579.1 119.2L579.2 122.5L579.3 121.4L579.4 124.6L579.7 125.0L579.8 127.2L579.8 126.7L580.1 130.5L580.0 130.7L580.2 131.5L580.5 132.1L580.6 133.1L580.7 134.3L581.1 134.7L581.1 137.1L581.3 136.3L581.5 139.8L581.4 139.1L581.8 141.3L581.9 142.4L582.2 143.4L582.7 143.4L583.0 145.2L583.1 144.9L583.4 143.7L583.7 142.2L584.0 141.8L584.0 139.5L584.4 138.5L584.6 138.2L584.7 136.5L585.0 135.2L585.3 137.0L585.1 137.5L585.2 138.6L585.6 139.8L585.5 141.4L585.6 142.5L585.9 143.1L586.1 144.9L586.2 145.6L586.4 145.4L586.2 141.8L586.7 141.8L586.8 141.5L586.9 140.8L587.0 139.1L587.2 137.7L587.4 137.5L587.5 136.2L587.7 135.1L588.1 134.0L588.3 130.2L588.4 130.5L588.7 130.2L589.2 128.9L589.3 127.4L589.5 126.8L589.4 124.9L589.8 124.3L589.8 126.0L589.9 127.0L590.2 127.0L590.2 130.3L590.4 130.0L590.4 130.8L590.7 129.1L590.7 129.4L591.0 127.2L590.9 128.8L591.1 129.2L591.2 128.7L591.4 132.5L591.2 131.8L591.3 133.4L591.4 136.9L591.6 136.2L591.7 137.6L591.7 139.7L592.0 140.4L592.1 140.5L592.3 141.9L592.6 144.1L592.9 144.0L593.1 146.0L593.4 145.4L593.6 147.1L594.0 149.3L594.4 149.4L594.6 147.9L594.9 146.2L594.9 145.6L595.1 145.0L595.3 147.6L595.5 148.4L595.7 148.4L595.7 149.9L595.9 150.5L596.0 152.1L596.0 152.5L596.2 155.4L596.4 154.3L596.7 153.1L596.5 153.7L596.6 151.8L596.7 148.9L596.9 149.7L596.6 147.4L596.9 146.0L597.0 146.3L597.0 145.2L597.0 143.8L597.3 143.3L597.5 142.3L597.3 139.7L597.9 138.1L597.8 138.3L598.0 137.8L598.5 137.1L598.3 135.0L598.5 133.9L598.7 133.5L599.0 131.5L599.1 132.2L599.2 130.1L599.4 127.8L599.6 127.9L600.0 126.5L600.1 124.9L600.4 124.7L600.7 124.8L601.0 122.9L601.3 120.8L601.4 120.0L602.0 119.4L602.0 117.5L602.2 116.0L602.4 116.8L602.7 113.1L602.7 111.9L603.1 110.3L603.1 111.7L603.2 109.5L603.4 108.5L603.8 108.5L603.9 106.1L604.0 105.5L604.2 106.1L604.6 103.1L604.8 102.5L604.9 101.8L605.2 101.8L605.6 99.3L605.9 100.8L606.1 103.0L606.4 103.2L607.1 102.6L607.2 101.6L607.4 103.5L607.5 105.7L607.7 106.4L607.9 107.4L608.1 108.9L608.2 109.0L608.4 110.1L608.6 111.5L608.7 113.8L608.7 114.1L608.8 115.0L609.1 115.2L608.9 120.5L609.2 117.8L609.2 120.2L609.1 119.8L609.2 122.8L609.5 124.7L609.6 124.7L609.7 125.3L609.9 126.7L609.9 128.1L610.1 129.4L610.3 130.1L610.7 131.9L611.1 134.5L611.4 134.1L612.3 135.2L613.2 135.8L613.5 136.8L613.9 137.5L614.0 136.9L614.0 134.3L614.2 136.2L614.3 133.9L614.4 132.0L614.4 132.3L614.6 130.7L614.6 128.8L614.7 128.0L614.8 129.7L614.9 131.2L615.1 132.7L615.2 131.6L615.4 133.5L615.7 133.7L615.7 136.5L615.7 135.3L615.6 136.9L616.2 139.0L616.1 139.2L616.1 141.1L616.2 138.8L616.4 138.6L616.4 136.3L616.6 136.0L616.5 133.6L616.6 133.3L616.7 132.8L617.2 130.9L617.1 129.8L617.3 130.1L617.3 128.0L617.5 126.8L617.6 126.0L617.9 125.3L618.0 123.0L618.2 123.8L618.5 121.1L618.7 122.0L619.1 118.5L619.1 117.2L619.4 117.3L620.1 115.2L620.3 114.8L620.5 116.1L620.6 112.8L620.8 111.5L621.1 110.6L621.2 109.3L621.3 107.6L621.8 108.4L622.1 105.9L622.4 104.8L622.5 104.0L622.6 102.5L622.8 101.5L623.1 101.1L623.0 102.5L623.3 105.6L623.6 106.9L623.6 107.9L623.7 109.7L623.8 111.4L624.2 110.7L624.3 111.8L624.4 112.9L624.3 115.4L624.8 116.5L624.9 116.5L625.0 117.5L625.5 119.9L625.5 119.4L625.4 121.3L625.6 122.1L625.8 123.4L626.1 123.6L626.1 125.8L626.3 127.1L626.3 126.6L626.5 129.0L626.8 130.8L627.3 131.0L627.5 131.2L627.6 133.5L627.7 133.7L627.8 135.3L628.0 136.4L628.2 134.7L628.2 134.8L628.5 133.7L628.5 131.5L628.7 130.7L629.6 130.1L630.2 129.9L630.5 128.7L631.0 128.3L631.4 127.6L631.8 126.8L631.9 126.1L632.3 124.5L632.7 121.7L633.2 123.0L633.3 122.4L633.7 121.6L633.7 119.1L633.9 119.0L634.1 117.8L634.1 117.4L634.5 116.4L634.7 115.6L634.8 113.4L635.0 112.6L635.1 110.2L635.3 110.5L635.5 108.7L635.7 108.1L635.9 107.4L636.2 106.4L636.3 105.3L636.2 103.0L636.7 102.9L637.0 102.3L637.2 100.0L637.6 99.5L638.0 99.8L638.3 102.2L638.5 102.8L639.4 101.4L640.1 102.5L640.2 103.9L640.3 104.5L640.5 104.7L640.7 106.0L640.6 107.1L640.7 108.9L640.9 109.5L640.8 110.5L640.9 110.0L641.2 114.4L641.2 114.3L641.4 115.1L641.5 115.9L641.5 116.7L641.6 119.6L641.8 120.6L642.0 123.1L642.2 121.9L642.2 123.2L642.2 124.8L642.6 126.0L642.5 126.1L642.7 126.3L642.8 128.5L643.0 128.3L643.0 130.6L643.4 129.1L643.5 127.1L643.7 126.4L643.9 129.0L644.0 129.9L644.4 130.3L644.4 130.9L644.5 130.1L644.6 129.6L644.7 127.5L644.7 127.7L644.9 125.5L644.9 124.0L645.1 123.2L645.2 121.8L645.2 123.5L645.6 124.4L645.5 124.6L645.7 126.2L645.5 127.1L645.8 127.2L645.9 129.7L646.3 129.4L646.8 127.6L647.7 127.9L648.1 128.1L648.6 125.8L649.2 125.3L649.5 124.2L649.5 122.3L649.7 121.3L649.8 121.6L650.0 120.4L649.9 118.9L650.1 116.2L650.2 116.9L650.6 117.6L651.0 118.6L651.1 118.2L651.4 120.6L651.7 121.8L651.6 122.2L651.8 124.8L652.1 124.2L652.4 125.3L652.3 127.5L652.4 129.0L652.5 131.5L652.7 130.1L652.6 130.4L652.8 133.2L652.9 133.8L653.2 136.5L653.3 135.5L653.4 136.9L653.6 138.8L653.8 139.7L653.8 140.7L654.0 142.7L654.2 143.8L654.4 143.6L654.5 146.2L654.6 145.5L654.9 147.8L654.8 149.0L655.0 149.3L655.0 147.9L655.1 147.5L655.1 147.2L655.4 144.4L655.3 144.2L655.3 143.5L655.6 141.9L656.2 142.2L656.4 139.3L657.3 139.0L657.7 137.5L657.8 136.1L657.8 135.6L658.2 134.0L658.2 136.8L658.9 136.9L659.1 137.9L660.0 137.1L660.2 137.2L660.2 133.4L660.5 133.7L660.6 132.5L660.7 132.3L661.0 128.3L661.0 130.5L661.1 128.7L661.2 127.9L661.3 125.9L661.4 124.8L661.5 124.4L661.8 122.4L661.8 122.2L662.0 121.0L662.4 120.4L662.9 119.2L663.0 117.0L663.3 116.1L663.6 114.8L664.0 114.9L664.1 116.6L664.3 117.7L664.3 117.1L664.6 118.0L664.5 119.7L664.7 121.6L664.7 121.7L664.8 123.3L664.9 123.1L665.1 125.5L665.2 126.7L665.3 125.8L665.5 127.5L665.5 130.1L665.6 131.9L665.6 131.2L665.8 132.6L666.0 133.9L666.1 135.9L666.2 135.3L666.3 136.5L666.5 137.8L666.7 138.3L667.0 139.7L667.2 140.8L668.0 139.9L668.5 141.3L668.8 141.7L668.8 139.8L669.0 138.7L668.9 138.3L669.1 138.1L669.3 135.9L669.4 135.6L669.5 138.0L669.6 137.3L669.7 138.4L669.7 141.8L669.8 140.7L670.0 141.9L670.1 142.6L670.4 143.3L670.1 145.5L670.3 147.1L670.5 147.4L670.5 146.9L670.6 146.0L670.8 144.9L670.9 143.3L671.0 141.7L671.2 140.5L671.2 140.4L671.6 140.6L671.6 136.7L671.7 136.6L671.7 135.8L671.9 136.0L672.0 133.5L672.4 134.1L672.4 131.1L672.9 129.8L673.2 128.8L673.4 129.9L673.9 131.5L674.0 129.5L674.0 131.3L674.2 129.6L674.3 126.6L674.4 125.3L674.5 125.2L674.6 124.6L674.8 121.7L675.0 123.0L675.1 120.4L675.8 120.6L676.0 119.8L676.3 118.4L676.2 117.7L676.4 117.1L676.7 115.8L676.8 114.5L676.9 114.2L677.2 117.2L677.2 116.9L677.2 119.5L677.2 119.4L677.4 120.9L677.5 123.0L677.7 124.2L677.6 124.4L677.6 127.0L677.7 126.1L677.9 127.5L677.9 128.7L677.9 130.6L678.0 130.0L678.3 130.6L678.4 132.9L678.6 133.7L678.6 135.5L678.8 136.1L678.9 137.8L679.2 137.9L679.4 139.4L680.2 140.2L680.7 141.2L681.0 141.6L681.8 141.1L682.5 139.4L683.1 139.0" fill="none" stroke="#008000" stroke-width="2.4" stroke-linejoin="miter" stroke-miterlimit="4.5" stroke-linecap="round"/>
<path d="M107.0 284.3L109.3 277.5L112.0 250.0L114.5 222.5L116.3 212.5L117.8 208.3L119.0 217.5L120.5 255.0L121.8 278.8L122.8 287.5L123.8 292.5L125.3 306.8L126.5 303.8L128.0 285.0L130.5 252.5L132.8 232.5L135.0 229.5L136.8 226.3L138.3 213.8L139.5 225.0L140.8 257.5L142.0 282.5L143.5 298.8L144.5 301.3L146.0 308.8L147.3 302.5L148.8 282.5L150.3 252.5L151.3 236.3L152.5 260.0L153.8 290.0L155.3 299.5L156.8 298.8L158.8 285.0L161.3 265.0L163.0 238.8L164.3 224.3L165.5 242.5L166.8 270.0L167.8 285.8L168.8 285.0L170.5 275.0L172.5 269.5L174.3 247.5L176.3 225.0L177.5 219.3L178.5 227.5L180.0 267.5L181.5 292.5L182.5 298.8L184.0 293.8L186.3 283.8L188.0 262.5L190.0 222.5L191.3 212.0L192.5 230.0L193.8 265.0L195.0 281.3L196.3 271.3L197.8 272.0L199.0 260.0L200.3 238.0L201.5 260.0L202.8 285.0L203.8 293.0L204.8 291.3L206.0 280.0L207.3 277.5L208.8 265.0L210.3 256.3L211.3 280.0L212.5 302.5L213.5 312.0L214.5 307.5L216.0 290.0L217.5 282.5L219.0 267.5L220.5 245.0L222.0 217.5L223.3 212.5L224.8 197.0L225.8 212.5L227.0 250.0L228.3 285.0L229.0 292.0L230.3 283.8L231.8 284.5L233.0 272.5L234.3 257.5L235.5 240.5L236.8 265.0L238.0 284.5L239.3 287.5L240.8 281.3L242.5 270.0L244.0 257.5L245.3 247.0L246.3 270.0L247.5 295.0L248.5 295.5L249.8 282.5L251.0 276.3L252.5 270.0L254.0 255.0L255.3 235.0L256.3 225.8L257.3 242.5L258.5 272.5L259.8 297.0L261.0 288.0L262.0 296.3L263.5 293.8L264.8 280.0L266.3 255.0L267.8 230.0L269.0 212.5L270.0 207.0L271.0 222.5L272.3 255.0L273.5 277.5L274.8 284.5L276.0 278.8L277.5 278.0L279.0 265.0L280.3 252.5L281.3 270.0L282.5 300.0L283.5 308.0L284.8 301.3L286.0 293.8L287.5 292.5L288.8 285.0L290.0 260.0L291.5 230.0L292.8 210.0L293.8 203.3L294.8 217.5L296.0 247.5L297.3 271.3L298.8 286.3L300.0 285.0L301.3 287.0L302.8 277.5L304.5 267.5L306.0 247.5L307.3 225.0L308.3 215.0L309.3 230.0L310.5 260.0L311.8 285.0L312.5 290.0L313.8 283.8L314.8 281.3L316.0 282.0L317.3 270.0L318.5 250.0L319.8 238.3L320.8 255.0L322.0 280.0L323.3 293.0L324.0 294.5L325.3 280.0L326.5 278.8L327.8 277.5L329.0 265.0L330.5 247.5L332.0 233.8L333.0 252.5L334.3 280.0L335.3 291.3L336.5 282.5L337.8 287.5L339.0 281.3L340.3 272.5L341.5 267.5L343.0 250.0L344.5 227.5L345.5 219.3L346.5 232.5L347.8 260.0L349.0 282.5L350.3 292.0L351.5 287.5L352.8 283.8L354.0 280.0L355.3 260.0L356.8 235.0L358.0 223.8L359.0 240.0L360.3 265.0L361.3 277.0L362.3 278.0L363.3 270.0L364.5 275.0L365.8 268.8L367.0 266.3L368.0 252.5L369.0 241.3L370.0 260.0L371.3 287.5L372.3 302.5L373.3 306.3L374.5 300.0L376.3 291.3L377.5 286.3L379.0 267.5L380.8 247.5L382.5 230.0L384.3 222.5L386.0 219.3L387.0 230.0L388.3 260.0L389.5 285.0L390.5 301.3L391.8 308.8L393.0 307.5L394.5 302.5L396.0 298.8L397.5 282.5L399.3 260.0L401.0 235.0L402.8 221.8L404.5 226.3L405.5 232.5L406.5 255.0L407.8 280.0L408.5 291.3L409.8 297.0L411.0 287.5L412.5 293.8L414.0 283.8L415.8 265.0L417.5 245.0L419.3 230.0L421.3 217.5L423.0 209.3L424.0 220.0L425.3 247.5L426.5 270.0L427.3 280.5L428.5 273.0L430.0 282.0L431.8 276.3L433.5 268.8L434.5 280.0L435.5 295.0L436.5 303.8L437.8 297.5L439.0 301.3L440.3 295.0L441.5 280.0L442.8 260.0L444.0 242.5L445.3 231.3L446.3 250.0L447.3 280.0L448.3 298.8L449.3 297.5L450.5 287.5L452.0 281.3L453.0 276.3L454.0 278.8L455.3 262.5L456.8 245.0L458.3 230.0L460.0 214.5L461.0 227.5L462.3 257.5L463.5 282.5L464.3 289.5L465.5 290.5L466.5 288.8L467.8 298.8L469.0 290.0L470.3 270.0L471.8 247.5L473.3 227.5L474.8 211.0L475.8 227.5L477.0 255.0L478.3 272.5L479.0 278.0L480.3 273.8L481.8 273.8L483.3 262.5L484.5 253.0L485.5 270.0L486.5 292.5L487.5 303.8L488.3 306.8L489.3 300.5L490.5 302.0L491.8 300.0L493.0 285.0L494.5 260.0L496.0 235.0L497.3 215.0L498.5 203.8L499.5 220.0L500.8 250.0L502.0 275.0L503.0 286.3L504.3 288.8L505.5 295.0L506.8 290.0L508.0 280.0L509.5 257.5L511.0 237.5L512.8 228.8L513.8 235.0L515.0 262.5L516.3 283.8L517.3 290.0L518.3 282.5L519.3 277.5L520.3 278.0L521.5 267.5L523.0 250.0L524.5 232.5L526.0 224.3L527.0 240.0L528.3 270.0L529.5 292.5L530.8 304.5L532.0 300.0L533.5 293.8L535.0 288.8L536.3 260.0L537.5 227.5L538.8 200.0L539.5 188.8L540.5 205.0L541.8 235.0L543.0 255.0L544.0 257.0L545.3 253.8L546.5 251.3L547.8 243.8L549.0 238.8L550.0 255.0L551.3 280.0L552.2 285.3L553.5 277.0L555.2 269.5L557.0 261.0L558.8 254.3L559.8 270.0L561.0 295.0L562.0 306.3L563.0 305.0L564.3 295.0L565.5 293.8L566.8 285.0L568.0 270.0L568.8 258.8L569.8 265.0L570.8 287.5L572.0 306.3L573.3 311.8L574.5 307.5L576.0 300.0L577.3 285.0L578.8 265.0L580.3 242.5L581.8 220.0L583.0 205.0L584.3 202.0L585.3 201.8L586.3 206.3L587.3 230.0L588.3 260.0L589.3 285.0L590.3 292.5L591.5 295.0L592.8 288.8L594.0 295.0L595.3 280.0L596.8 260.0L598.3 237.5L600.0 222.0L601.0 235.0L602.3 265.0L603.5 285.0L604.5 295.0L605.3 299.5L606.5 292.5L607.8 287.5L609.3 277.5L610.5 270.0L611.8 247.5L613.0 222.5L614.3 208.8L615.5 209.5L616.5 225.0L617.8 255.0L619.0 277.5L619.8 280.5L621.0 275.0L622.5 275.0L624.0 272.5L625.3 257.5L626.5 246.3L627.5 265.0L628.8 290.0L629.8 303.8L630.5 307.5L631.5 300.0L632.8 290.0L633.8 285.0L634.8 286.3L635.8 272.5L637.0 247.5L638.5 228.3L639.5 242.5L640.8 270.0L642.0 285.0L643.3 289.3L644.5 285.0L646.5 277.5L647.8 260.0L649.3 237.5L650.8 223.8L651.8 240.0L653.0 267.5L654.0 276.3L655.3 281.3L656.5 275.0L657.5 270.0" fill="none" stroke="#006400" stroke-width="2.2" stroke-linejoin="miter" stroke-miterlimit="4"/><g fill="#800080"><circle cx="117.8" cy="208.3" r="2.4"/><circle cx="138.3" cy="213.8" r="2.4"/><circle cx="151.3" cy="241.5" r="2.4"/><circle cx="164.3" cy="224.3" r="2.4"/><circle cx="177.5" cy="219.3" r="2.4"/><circle cx="191.3" cy="212.0" r="2.4"/><circle cx="200.8" cy="241.8" r="2.4"/><circle cx="210.3" cy="256.3" r="2.4"/><circle cx="224.8" cy="197.0" r="2.4"/><circle cx="235.8" cy="244.0" r="2.4"/><circle cx="245.3" cy="247.0" r="2.4"/><circle cx="256.3" cy="225.8" r="2.4"/><circle cx="270.0" cy="207.0" r="2.4"/><circle cx="280.5" cy="255.0" r="2.4"/><circle cx="293.8" cy="203.3" r="2.4"/><circle cx="308.3" cy="215.0" r="2.4"/><circle cx="319.8" cy="238.3" r="2.4"/><circle cx="332.0" cy="235.8" r="2.4"/><circle cx="345.5" cy="219.3" r="2.4"/><circle cx="358.0" cy="226.8" r="2.4"/><circle cx="369.0" cy="243.0" r="2.4"/><circle cx="386.0" cy="219.3" r="2.4"/><circle cx="402.8" cy="221.8" r="2.4"/><circle cx="423.0" cy="209.3" r="2.4"/><circle cx="445.3" cy="231.3" r="2.4"/><circle cx="460.0" cy="214.5" r="2.4"/><circle cx="474.8" cy="211.0" r="2.4"/><circle cx="484.5" cy="256.0" r="2.4"/><circle cx="498.5" cy="207.3" r="2.4"/><circle cx="512.8" cy="228.8" r="2.4"/><circle cx="526.0" cy="224.3" r="2.4"/><circle cx="539.8" cy="195.0" r="2.4"/><circle cx="549.0" cy="241.3" r="2.4"/><circle cx="558.8" cy="254.3" r="2.4"/><circle cx="585.0" cy="202.0" r="2.4"/><circle cx="600.0" cy="222.0" r="2.4"/><circle cx="614.3" cy="208.2" r="2.4"/><circle cx="626.5" cy="249.3" r="2.4"/><circle cx="638.5" cy="228.3" r="2.4"/><circle cx="650.8" cy="223.8" r="2.4"/></g>
<path d="M107.4 386.8C109.2 386.7 115.5 386.7 118.4 386.0C121.3 385.3 122.6 383.6 125.0 382.8C127.4 382.0 130.0 381.2 132.8 381.0C135.6 380.8 139.1 381.3 142.0 381.8C144.9 382.3 148.0 384.1 150.4 383.9C152.8 383.7 154.2 382.0 156.5 380.7C158.8 379.4 162.0 376.9 164.4 376.3C166.8 375.7 169.0 376.8 170.9 377.1C172.8 377.4 174.2 378.2 175.7 377.9C177.2 377.5 178.5 376.6 180.1 375.0C181.7 373.4 183.9 368.4 185.4 368.4C186.9 368.4 188.1 370.6 189.3 375.0C190.5 379.4 191.4 386.6 192.5 394.7C193.6 402.8 194.8 415.5 195.9 423.6C197.0 431.7 198.4 439.5 199.3 443.3C200.2 447.1 200.5 446.9 201.2 446.7C201.9 446.5 202.4 446.7 203.3 442.0C204.2 437.3 205.3 427.1 206.4 418.3C207.5 409.5 208.6 397.5 209.8 389.4C211.0 381.3 212.4 374.3 213.5 369.7C214.6 365.1 215.5 363.3 216.4 361.8C217.3 360.3 218.0 360.3 218.8 360.5C219.6 360.7 220.4 360.0 221.4 363.1C222.4 366.2 223.7 371.4 224.8 378.9C225.9 386.3 227.1 398.6 228.2 407.8C229.3 417.0 230.4 427.5 231.4 434.1C232.4 440.8 233.3 444.9 234.0 447.7C234.7 450.5 235.2 451.0 235.8 450.9C236.5 450.8 237.0 450.9 237.9 447.2C238.8 443.5 240.0 435.8 241.1 428.8C242.2 421.8 243.4 411.8 244.5 405.2C245.6 398.6 246.5 393.6 247.7 389.4C248.9 385.2 250.2 382.6 251.9 380.2C253.6 377.8 255.6 376.2 257.6 375.0C259.7 373.8 262.2 373.1 264.2 373.1C266.2 373.1 267.6 373.8 269.5 375.0C271.4 376.2 273.7 378.7 275.8 380.2C277.9 381.7 280.2 384.0 282.3 384.2C284.4 384.4 286.1 382.7 288.4 381.5C290.7 380.3 293.8 378.1 296.3 377.1C298.8 376.1 301.4 375.2 303.6 375.5C305.8 375.8 307.5 377.1 309.4 378.9C311.3 380.7 313.4 384.5 315.2 386.3C317.0 388.1 318.6 389.9 320.4 389.9C322.1 389.9 323.6 388.4 325.7 386.3C327.8 384.2 330.9 379.8 333.1 377.6C335.3 375.4 337.3 374.0 338.8 373.1C340.3 372.2 341.1 372.1 342.3 372.3C343.5 372.5 344.7 372.6 346.2 374.2C347.7 375.8 349.9 379.9 351.4 382.1C352.9 384.3 354.3 386.5 355.4 387.6C356.5 388.7 357.0 389.1 358.0 388.9C359.0 388.7 360.1 388.1 361.4 386.3C362.7 384.6 364.4 380.5 365.9 378.4C367.4 376.3 369.0 374.5 370.4 373.6C371.8 372.7 373.0 372.7 374.3 372.9C375.6 373.1 376.8 373.6 378.2 375.0C379.6 376.4 381.3 378.2 383.0 381.0C384.7 383.8 386.4 388.2 388.2 392.0C389.9 395.8 392.0 400.8 393.5 403.9C395.0 407.0 396.2 409.0 397.4 410.4C398.6 411.8 399.5 412.4 400.6 412.3C401.7 412.2 402.8 412.0 404.0 409.9C405.2 407.8 406.6 404.2 407.9 399.9C409.2 395.6 410.7 388.8 411.9 384.2C413.1 379.6 414.1 375.0 415.0 372.3C415.9 369.6 416.4 368.8 417.1 367.9C417.8 367.0 418.3 366.8 419.0 367.1C419.7 367.4 420.2 366.4 421.1 369.7C422.0 373.0 423.4 380.0 424.5 386.8C425.6 393.6 426.6 402.9 427.7 410.4C428.8 417.8 429.9 426.6 430.8 431.5C431.7 436.4 432.3 438.3 432.9 439.9C433.5 441.5 433.7 441.3 434.2 441.0C434.7 440.7 435.2 441.6 436.0 438.0C436.8 434.4 437.7 427.3 438.7 419.6C439.7 411.9 441.0 399.4 442.0 392.0C443.0 384.6 443.7 379.3 444.6 375.0C445.5 370.7 446.4 368.2 447.2 366.3C448.0 364.4 448.8 363.9 449.7 363.9C450.6 363.9 451.2 364.4 452.3 366.3C453.4 368.2 455.0 372.7 456.3 375.0C457.6 377.3 458.9 379.0 460.2 380.2C461.5 381.4 462.7 382.1 464.2 382.1C465.7 382.1 467.6 380.9 469.4 380.2C471.2 379.5 473.2 378.4 475.2 378.1C477.2 377.8 479.1 378.2 481.2 378.4C483.3 378.6 485.4 379.4 487.8 379.2C490.2 379.0 492.9 377.8 495.7 377.3C498.5 376.8 501.8 376.0 504.9 376.0C508.0 376.0 511.2 376.6 514.1 377.1C517.0 377.6 520.0 378.9 522.0 378.9C524.0 378.9 524.6 378.2 525.9 377.1C527.2 376.0 528.6 374.1 529.8 372.3C531.0 370.5 532.2 367.7 533.0 366.3C533.8 364.9 534.1 363.5 534.8 363.9C535.4 364.2 536.2 365.0 536.9 368.4C537.6 371.8 538.2 376.3 539.0 384.2C539.8 392.1 540.8 405.2 541.7 415.7C542.6 426.2 543.4 438.0 544.3 447.2C545.2 456.4 546.1 465.6 546.9 470.9C547.6 476.1 548.3 477.2 548.8 478.7C549.3 480.2 549.4 480.3 549.8 480.1C550.2 479.9 550.6 480.2 551.1 477.4C551.6 474.5 552.2 470.6 553.0 463.0C553.8 455.4 554.7 441.6 555.6 431.5C556.5 421.4 557.4 410.1 558.2 402.5C559.1 394.9 559.9 390.1 560.7 386.0C561.5 381.9 562.1 379.6 563.0 377.9C563.9 376.2 564.7 376.2 565.8 375.7C566.9 375.2 568.4 375.0 569.7 375.1C571.0 375.2 572.2 375.7 573.8 376.6C575.4 377.5 577.7 379.4 579.5 380.4C581.3 381.4 583.1 382.3 584.8 382.4C586.5 382.5 588.1 381.8 589.7 381.0C591.3 380.2 592.9 378.5 594.4 377.7C595.9 376.9 597.1 376.1 598.5 376.1C599.9 376.1 601.3 376.8 602.6 377.9C603.9 379.0 605.1 381.1 606.5 382.8C607.9 384.5 609.7 386.7 611.1 388.0C612.5 389.3 613.3 389.9 614.7 390.5C616.1 391.1 617.8 391.6 619.3 391.6C620.8 391.6 622.4 391.1 623.9 390.5C625.4 389.9 626.9 389.1 628.4 388.0C629.9 386.9 631.6 385.3 633.0 383.8C634.4 382.3 635.5 380.5 636.6 379.2C637.7 377.9 638.9 376.4 639.4 375.9L656.7 375.9" fill="none" stroke="#ffa500" stroke-width="2.15" stroke-linejoin="round" stroke-linecap="butt"/>
<g font-size="19.8">
<text x="-0.4" y="19.3" font-size="25" letter-spacing="0.5">(a)</text>
<text x="-0.4" y="185.3" font-size="25" letter-spacing="0.5">(b)</text>
<text x="-0.4" y="351.8" font-size="25" letter-spacing="0.5">(c)</text>
<text x="378.5" y="19" text-anchor="middle">Raw PPG</text>
<text x="383.6" y="182.6" text-anchor="middle">Filtered PPG</text>
<text x="386.6" y="349.5" text-anchor="middle">PPG Signal Quality</text>
<text x="384.5" y="534.2" text-anchor="middle">Time (s)</text>
<text transform="translate(33.2,83) rotate(-90)" text-anchor="middle" font-size="19.7">Amplitude</text>
<text transform="translate(33.2,249.5) rotate(-90)" text-anchor="middle" font-size="19.7">Amplitude</text>
<text transform="translate(33.2,420) rotate(-90)" text-anchor="middle" font-size="19.7">Quality (0−1)</text>
</g>
<g font-size="17" text-anchor="end">
<text x="80.6" y="59.3">7800</text>
<text x="80.6" y="114.8">7550</text>
<text x="80.5" y="209.5">20</text>
<text x="80.5" y="240.5">10</text>
<text x="80.5" y="271.4">0</text>
<text x="80.5" y="302.5">-10</text>
<text x="80.7" y="380.3">1</text>
<text x="80.7" y="411.8">0.8</text>
<text x="80.7" y="442.7">0.6</text>
<text x="80.7" y="474.8">0.4</text>
</g>
<g font-size="17" text-anchor="middle">
<text x="107.2" y="503.8">0</text>
<text x="175.9" y="503.8">5</text>
<text x="244.5" y="503.8">10</text>
<text x="313.2" y="503.8">15</text>
<text x="381.9" y="503.8">20</text>
<text x="450.5" y="503.8">25</text>
<text x="519.2" y="503.8">30</text>
<text x="587.8" y="503.8">35</text>
<text x="656.5" y="503.8">40</text>
</g>
</svg>
</body></html>
